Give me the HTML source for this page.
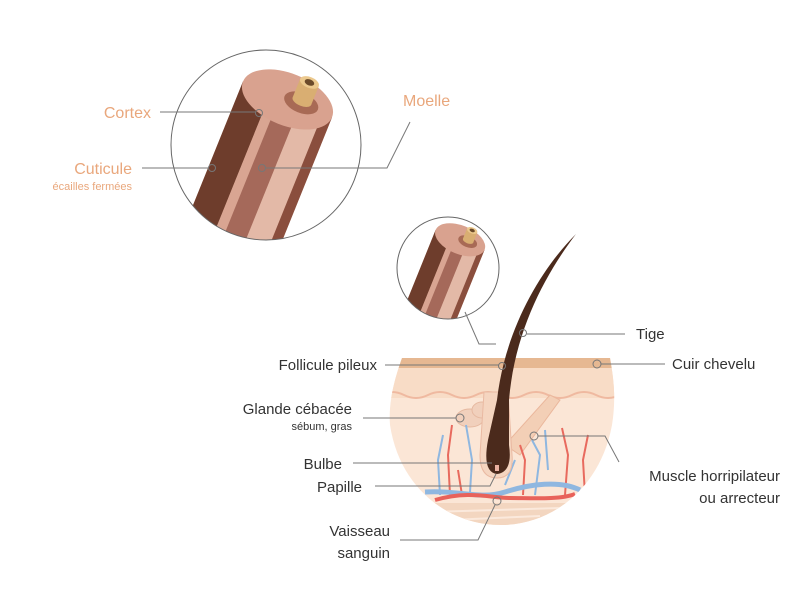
<!DOCTYPE html>
<html><head><meta charset="utf-8"><style>
html,body{margin:0;padding:0;background:#fff;width:800px;height:600px;overflow:hidden}
svg{display:block}
text{font-family:"Liberation Sans",sans-serif}
</style></head><body>
<svg width="800" height="600" viewBox="0 0 800 600" xmlns="http://www.w3.org/2000/svg">
<defs>
<clipPath id="c1"><circle cx="266" cy="145" r="95"/></clipPath>
<clipPath id="c2"><circle cx="448" cy="268" r="51"/></clipPath>
<clipPath id="c3"><path d="M402 358 L610 358 C614 380 616 400 612 425 C600 490 550 525 501 525 C450 525 400 490 390 425 C388 400 396 375 402 358 Z"/></clipPath>
<g id="strand">
  <path d="M-48 -20 L-48 260 L48 260 L48 -20 Z" fill="#c99480"/>
  <rect x="-48" y="-20" width="30" height="280" fill="#6e3d2c"/>
  <rect x="-18" y="-20" width="10" height="280" fill="#d9a592"/>
  <rect x="-8" y="-20" width="22" height="280" fill="#a5695a"/>
  <rect x="14" y="-20" width="24" height="280" fill="#e3b9a7"/>
  <rect x="38" y="-20" width="10" height="280" fill="#8a4e3d"/>
  <ellipse cx="0" cy="-20" rx="48" ry="26" fill="#d9a28f"/>
  <ellipse cx="14" cy="-22" rx="18" ry="10" fill="#a86a55"/>
  <rect x="4" y="-44" width="20" height="20" fill="#d9ae72"/>
  <ellipse cx="14" cy="-24" rx="10" ry="5" fill="#d9ae72"/>
  <ellipse cx="14" cy="-44" rx="10" ry="5.5" fill="#ecc98e"/>
  <ellipse cx="14" cy="-44" rx="5" ry="3" fill="#6b4a2a"/>
</g>
</defs>

<g clip-path="url(#c1)">
  <g transform="translate(280,118) rotate(22)"><use href="#strand"/></g>
</g>
<circle cx="266" cy="145" r="95" fill="none" stroke="#666" stroke-width="1"/>

<g clip-path="url(#c2)">
  <g transform="translate(456,250) scale(0.55) rotate(22)"><use href="#strand"/></g>
</g>
<circle cx="448" cy="268" r="51" fill="none" stroke="#666" stroke-width="1"/>

<g clip-path="url(#c3)">
  <rect x="380" y="355" width="240" height="180" fill="#fbe6d6"/>
  <rect x="380" y="368" width="240" height="30" fill="#f8dcc6"/>
  <path d="M380 395 q12 -6 24 0 t24 0 t24 0 t24 0 t24 0 t24 0 t24 0 t24 0 t24 0 t24 0" fill="none" stroke="#efb9a0" stroke-width="2"/>
  <rect x="380" y="358" width="240" height="10" fill="#e6b892"/>
  <rect x="380" y="503" width="240" height="30" fill="#f3d6c0"/>
  <path d="M430 512 L560 508 M450 520 L540 516" stroke="#fbe9dc" stroke-width="2"/>
  <path d="M505 445 L550 395 L560 400 L520 455 Z" fill="#f3cfb6" stroke="#eab79c"/>
  <ellipse cx="470" cy="418" rx="14" ry="9" fill="#f1d0bc" stroke="#e6b9a1"/>
  <ellipse cx="482" cy="410" rx="10" ry="8" fill="#f1d0bc" stroke="#e6b9a1"/>
  <g fill="none" stroke-width="2">
    <path d="M440 495 L438 460 L443 435 M470 492 L472 460 L466 425 M535 495 L540 455 L532 440 M548 470 L545 430 M505 485 L515 460" stroke="#8fb7e0"/>
    <path d="M450 495 L448 455 L452 425 M462 495 L458 470 M523 495 L525 460 L520 445 M565 495 L568 455 L562 428 M585 495 L583 460 L588 435" stroke="#e86a5e"/>
  </g>
  <path d="M425 492 C460 490 480 500 505 492 S560 480 580 490" fill="none" stroke="#8fb7e0" stroke-width="5"/>
  <path d="M435 500 C470 490 490 498 510 498 S560 500 575 494" fill="none" stroke="#e8625a" stroke-width="4"/>
  <path d="M484 392 L480 455 Q480 478 497 478 Q514 478 512 455 L508 392 Z" fill="#f5d5c0" stroke="#e9b9a2"/>
</g>
<path d="M576 234 C540 270 505 330 497 400 L488 440 Q482 472 497 474 Q513 472 509 445 L509 400 C515 330 545 275 576 234 Z" fill="#4b2a1c"/>
<rect x="495" y="465" width="4" height="6" fill="#e9b0a0"/>

<g fill="none" stroke="#777" stroke-width="1">
  <path d="M160 112 L255 112"/><circle cx="259" cy="113" r="3.5"/>
  <path d="M142 168 L208 168"/><circle cx="212" cy="168" r="3.5"/>
  <path d="M410 122 L387 168 L266 168"/><circle cx="262" cy="168" r="3.5"/>
  <path d="M465 312 L479 344 L496 344"/>
  <path d="M527 334 L625 334"/><circle cx="523" cy="333" r="3.5"/>
  <path d="M601 364 L665 364"/><circle cx="597" cy="364" r="4"/>
  <path d="M385 365 L499 365"/><circle cx="502" cy="366" r="3.5"/>
  <path d="M363 418 L456 418"/><circle cx="460" cy="418" r="4"/>
  <path d="M538 436 L605 436 L619 462"/><circle cx="534" cy="436" r="4"/>
  <path d="M353 463 L492 463"/>
  <path d="M375 486 L490 486 L496 474"/>
  <path d="M495 505 L478 540 L400 540"/><circle cx="497" cy="501" r="4"/>
</g>

<g fill="#e9a77c">
  <text x="151" y="118" font-size="16" text-anchor="end">Cortex</text>
  <text x="132" y="174" font-size="16" text-anchor="end">Cuticule</text>
  <text x="132" y="190" font-size="11" text-anchor="end">écailles fermées</text>
  <text x="403" y="106" font-size="16">Moelle</text>
</g>
<g fill="#333" font-size="15">
  <text x="636" y="339">Tige</text>
  <text x="672" y="369">Cuir chevelu</text>
  <text x="780" y="481" text-anchor="end">Muscle horripilateur</text>
  <text x="780" y="503" text-anchor="end">ou arrecteur</text>
  <text x="377" y="370" text-anchor="end">Follicule pileux</text>
  <text x="352" y="414" text-anchor="end">Glande cébacée</text>
  <text x="352" y="430" text-anchor="end" font-size="11">sébum, gras</text>
  <text x="342" y="469" text-anchor="end">Bulbe</text>
  <text x="362" y="492" text-anchor="end">Papille</text>
  <text x="390" y="536" text-anchor="end">Vaisseau</text>
  <text x="390" y="558" text-anchor="end">sanguin</text>
</g>
</svg>
</body></html>
